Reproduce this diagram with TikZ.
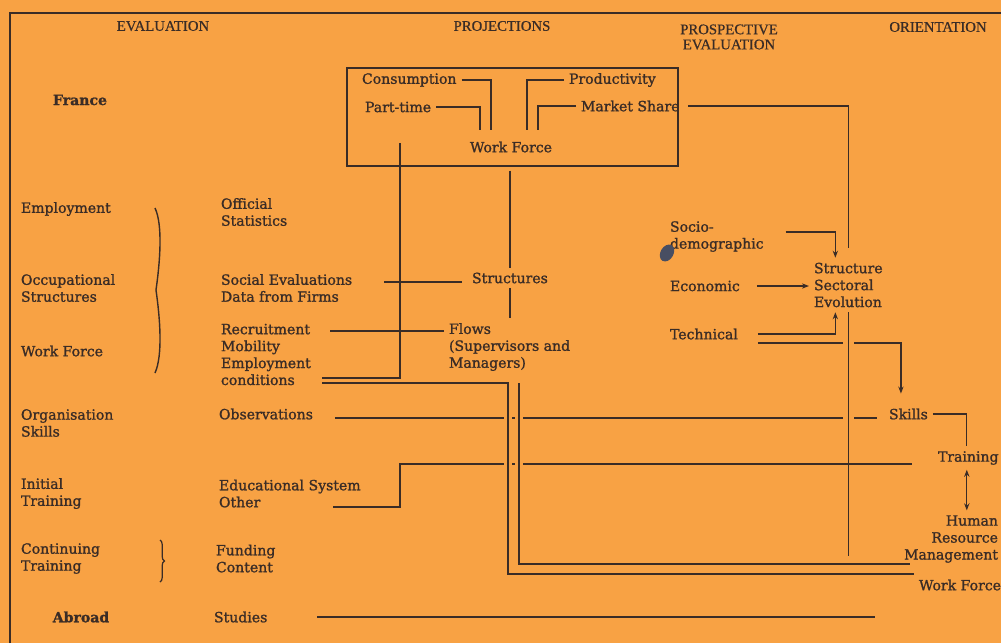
\documentclass[tikz,border=0pt]{standalone}
\usepackage{fontspec}
\setmainfont{DejaVu Serif}[FakeBold=1.3]
\newfontfamily\capsfont{Liberation Serif}[FakeBold=0.6]
\usetikzlibrary{arrows.meta,decorations.pathreplacing}
\definecolor{sheet}{RGB}{248,162,68}
\definecolor{ink}{RGB}{58,44,38}
\definecolor{blot}{RGB}{72,78,98}
\newcommand{\diagfont}{\fontsize{8}{9.64}\selectfont}

\begin{document}
\begin{tikzpicture}[x=0.02cm, y=-0.02cm, >={Stealth[length=4pt,width=3pt]},
  line width=0.7pt, color=ink, font=\diagfont,
  lbl/.style={anchor=west, align=left, inner sep=2.5pt},
  hdr/.style={font=\capsfont\fontsize{8.4}{8.6}\selectfont, align=center},
  bld/.style={font=\diagfont\bfseries},
  bridge/.style={preaction={draw=sheet, line width=#1}},
  bridge/.default=4.5pt]
\fill[sheet] (0,0) rectangle (1001,643);
\useasboundingbox (0,0) rectangle (1001,643);
\clip (0,0) rectangle (1001,643);
\draw (10,643) -- (10,13) -- (1001,13);

% column heads
\node[hdr] (hEval) at (163,26) {EVALUATION};
\node[hdr] (hProj) at (502,26) {PROJECTIONS};
\node[hdr] (hProsp) at (729,37) {PROSPECTIVE\\EVALUATION};
\node[hdr] (hOrient) at (938,27) {ORIENTATION};

% evaluation column
\node[bld] (france) at (80,100) {France};
\node[lbl] (employ) at (16,209) {Employment};
\node[lbl] (occup) at (16,288) {Occupational\\Structures};
\node[lbl] (wfleft) at (16,351) {Work Force};
\node[lbl] (orgsk) at (16,423) {Organisation\\Skills};
\node[lbl] (inittr) at (16,493.5) {Initial\\Training};
\node[lbl] (conttr) at (16,558.5) {Continuing\\Training};
\node[bld] (abroad) at (81,617) {Abroad};
\draw[line width=0.8pt] (155,208) .. controls (163,225) and (160,262) .. (156,290)
  .. controls (160,318) and (163,355) .. (155,373);
\draw[decorate, decoration={brace, amplitude=2.5pt}] (160,540) -- (160,582);

% sources
\node[lbl] (offstat) at (216,212) {Official\\Statistics};
\node[lbl] (socev) at (216,288) {Social Evaluations\\Data from Firms};
\node[lbl] (recruit) at (216,354.5) {Recruitment\\Mobility\\Employment\\conditions};
\node[lbl] (obs) at (214,414) {Observations};
\node[lbl] (edsys) at (214,493.5) {Educational System\\Other};
\node[lbl] (funding) at (211,558.5) {Funding\\Content};
\node[lbl] (studies) at (209,617) {Studies};

% projections box
\node[draw, minimum width=6.62cm, minimum height=1.96cm, inner sep=0pt] (box) at (512.5,117) {};
\node[lbl] (cons) at (357,80) {Consumption};
\node[lbl] (part) at (360,107) {Part-time};
\node[lbl] (prod) at (564,80) {Productivity};
\node[lbl] (mshare) at (576,106) {Market Share};
\node (wforce) at (511,147) {Work Force};
\node[lbl] (struct) at (467,278) {Structures};
\node[lbl] (flows) at (444,347) {Flows\\(Supervisors and\\Managers)};

% prospective evaluation and orientation
\node[lbl] (socio) at (665,236.5) {Socio-\\demographic};
\node[lbl] (econ) at (665,286) {Economic};
\node[lbl] (tech) at (665,334) {Technical};
\node[lbl] (sse) at (809,285) {Structure\\Sectoral\\Evolution};
\node[lbl] (skills) at (884,414) {Skills};
\node[lbl] (training) at (933,458) {Training};
\node[anchor=east, align=right, inner sep=2.5pt] (hrm) at (1003,539) {Human\\Resource\\Management};
\node[lbl] (wfright) at (914,585) {Work Force};

% free ends of the connectors
\foreach \n/\x in {a/480,b/491,c/527,d/538} \coordinate (wf\n) at (\x,130);
\coordinate (vtop) at (400,143);
\coordinate (jA) at (322,378);
\coordinate (jB) at (322,383);
\coordinate (kA) at (519,383);
\coordinate (kB) at (508,574);
\coordinate (kC) at (910,564);
\coordinate (eA) at (333,507);
\coordinate (eB) at (400,464);
\coordinate (sEnd) at (875,620);
\coordinate (vEnd) at (849,556);

% inside the box
\draw (cons.east) -| (wfb);
\draw (part.east) -| (wfa);
\draw (prod.west) -| (wfc);
\draw (mshare.west) -| (wfd);
\draw[shorten <=2pt, shorten >=0.2cm] (mshare.east) -| (sse.north);

% horizontals that are crossed with gaps
\draw[shorten <=0.34cm, shorten >=0.14cm] ([yshift=-0.08cm]obs.east) -- ([yshift=-0.08cm]skills.west);
\draw[->, shorten <=0.3cm, shorten >=0.2cm] ([yshift=-0.18cm]tech.east) -| ([xshift=-0.15cm]skills.north);
\draw[shorten <=0.9cm] (studies.east) -- (studies.east -| sEnd);
\draw[bridge=6pt] (sse.south) -- (sse.south |- vEnd);
\draw[shorten >=0.42cm] (eA) -| (eB) -- (eB -| training.west);
\draw[bridge] (jB) -| (kB) -- (kB -| wfright.west);
\draw[bridge] (kA) |- (kC);

% projections
\draw (vtop) |- (jA);
\draw[shorten <=0.1cm, shorten >=0.54cm] ([yshift=-0.08cm]struct.west) -- ([yshift=-0.08cm]struct.west -| socev.east);
\draw[shorten >=0.28cm] ([yshift=0.32cm]flows.west) -- ([yshift=0.32cm]flows.west -| recruit.east);
\draw[shorten <=0.08cm] (box.south -| struct.north) -- (struct.north);
\draw (struct.south) -- (struct.south |- flows.north);

% prospective evaluation
\draw[->, shorten <=0.34cm] ([yshift=0.09cm]socio.east) -| ([xshift=-0.26cm]sse.north);
\draw[->, shorten <=0.24cm] (econ.east) -- (econ.east -| sse.west);
\draw[->, shorten <=0.3cm] (tech.east) -| ([xshift=-0.26cm]sse.south);
\draw (skills.east) -| ([xshift=-0.03cm]training.north);
\draw[<->] ([xshift=-0.03cm]training.south) -- ([xshift=-0.03cm]training.south |- hrm.north);

% ink blot over the text
\fill[blot, rotate around={-30:(667,253)}] (667,253) ellipse [x radius=0.13cm, y radius=0.18cm];
\end{tikzpicture}
\end{document}
